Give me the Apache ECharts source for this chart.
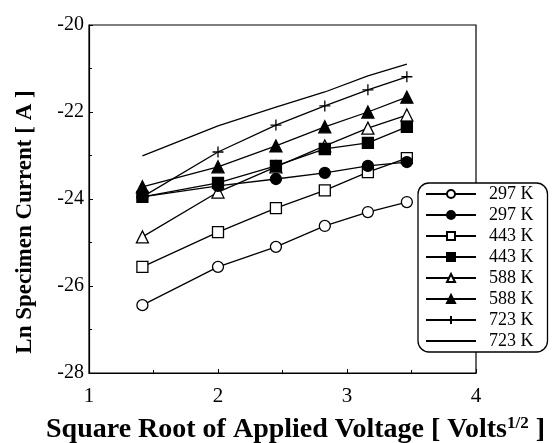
<!DOCTYPE html>
<html>
<head>
<meta charset="utf-8">
<script src="https://cdn.jsdelivr.net/npm/echarts@6/dist/echarts.min.js"></script>
<style>
	html, body { margin: 0; padding: 0; background: #fff; }
	#chart { width: 553px; height: 443px; }
</style>
</head>
<body>
<div id="chart"></div>
<script>
	// sqrt of applied voltage (2, 4, 6, 8, 10, 12 V)
	const xValues = [1.414, 2.0, 2.449, 2.828, 3.162, 3.464];

	const labels = ['297 K', '297 K', '443 K', '443 K', '588 K', '588 K', '723 K', '723 K'];
	const symbols = ['circle', 'circle', 'rect', 'rect', 'triangle', 'triangle', 'plus', 'none'];
	const filled = [false, true, false, true, false, true, false, false];

	const open297 = [-26.44, -25.56, -25.10, -24.62, -24.30, -24.07];
	const filled297 = [-23.95, -23.70, -23.54, -23.40, -23.24, -23.15];
	const open443 = [-25.56, -24.76, -24.21, -23.80, -23.38, -23.06];
	const filled443 = [-23.95, -23.63, -23.24, -22.85, -22.71, -22.34];
	const open588 = [-24.87, -23.84, -23.26, -22.78, -22.37, -22.07];
	const filled588 = [-23.72, -23.26, -22.78, -22.34, -22.00, -21.66];
	const plus723 = [-23.95, -22.92, -22.30, -21.86, -21.49, -21.19];
	const line723 = [-23.01, -22.32, -21.89, -21.54, -21.17, -20.90];

	const yTicks = [-28, -26, -24, -22, -20];
	const xTicks = [1, 2, 3, 4];

	const allValues = [open297, filled297, open443, filled443, open588, filled588, plus723, line723];

	const FONT = '"Liberation Serif", "Times New Roman", serif';
	const PLUS = 'path://M0,5L10,5M5,0L5,10';

	const chart = echarts.init(document.getElementById('chart'));

	const series = allValues.map((vals, i) => {
		const isPlus = symbols[i] === 'plus';
		return {
			name: labels[i] + '#' + i,
			type: 'line',
			data: vals.map((v, j) => [xValues[j], v]),
			symbol: isPlus ? PLUS : symbols[i],
			symbolSize: symbols[i] === 'triangle' ? 12 : 11,
			showSymbol: symbols[i] !== 'none',
			lineStyle: { color: '#000', width: 1.3 },
			itemStyle: {
				color: isPlus ? 'none' : (filled[i] ? '#000' : '#fff'),
				borderColor: '#000',
				borderWidth: 1.3
			},
			z: 10 - i
		};
	});

	const legendData = series.map((s, i) => {
		if (symbols[i] === 'none') {
			return {
				name: s.name,
				itemStyle: { color: 'transparent', borderColor: 'transparent', borderWidth: 0 }
			};
		}
		return { name: s.name };
	});

	chart.setOption({
		backgroundColor: '#fff',
		animation: false,
		grid: {
			left: 89,
			right: 77,
			top: 25,
			bottom: 70,
			show: true,
			borderColor: '#000',
			borderWidth: 1.2
		},
		legend: {
			orient: 'vertical',
			left: 418,
			top: 183,
			itemWidth: 50,
			itemHeight: 10,
			itemGap: 3,
			padding: [2, 14, 2, 7],
			borderColor: '#000',
			borderWidth: 1.3,
			borderRadius: 11,
			backgroundColor: '#fff',
			formatter: (name) => name.replace(/#.*/, ''),
			textStyle: {
				fontFamily: FONT,
				fontSize: 18,
				lineHeight: 18,
				color: '#000',
				padding: [0, 0, 0, 8]
			},
			data: legendData
		},
		graphic: [
			{
				type: 'text',
				left: 46,
				top: 415,
				style: {
					text: '{b|Square Root of Applied Voltage [ Volts}{sup|1/2}{b| ]}',
					rich: {
						b: { fontFamily: FONT, fontSize: 28, fontWeight: 'bold', fill: '#000', verticalAlign: 'bottom' },
						sup: { fontFamily: FONT, fontSize: 17, fontWeight: 'bold', fill: '#000', padding: [0, 0, 12, 0], verticalAlign: 'bottom' }
					}
				}
			},
			{
				type: 'text',
				x: 25,
				y: 222,
				rotation: Math.PI / 2,
				style: {
					text: 'Ln Specimen Current [ A ]',
					fontFamily: FONT,
					fontSize: 23,
					fontWeight: 'bold',
					fill: '#000',
					textAlign: 'center',
					textVerticalAlign: 'middle'
				}
			}
		],
		xAxis: {
			type: 'value',
			min: 1,
			max: 4,
			interval: 1,
			axisLine: { lineStyle: { color: '#000', width: 1.2 } },
			axisTick: { inside: true, length: 4, lineStyle: { color: '#000' } },
			minorTick: { show: true, splitNumber: 2, length: 3, lineStyle: { color: '#000' } },
			splitLine: { show: false },
			axisLabel: {
				fontFamily: FONT,
				fontSize: 21,
				color: '#000',
				margin: 13,
				customValues: xTicks
			}
		},
		yAxis: {
			type: 'value',
			min: -28,
			max: -20,
			interval: 2,
			axisLine: { lineStyle: { color: '#000', width: 1.2 } },
			axisTick: { inside: true, length: 4, lineStyle: { color: '#000' } },
			minorTick: { show: true, splitNumber: 2, length: 3, lineStyle: { color: '#000' } },
			splitLine: { show: false },
			axisLabel: {
				fontFamily: FONT,
				fontSize: 20,
				color: '#000',
				margin: 5,
				customValues: yTicks
			}
		},
		series
	});
</script>
</body>
</html>
